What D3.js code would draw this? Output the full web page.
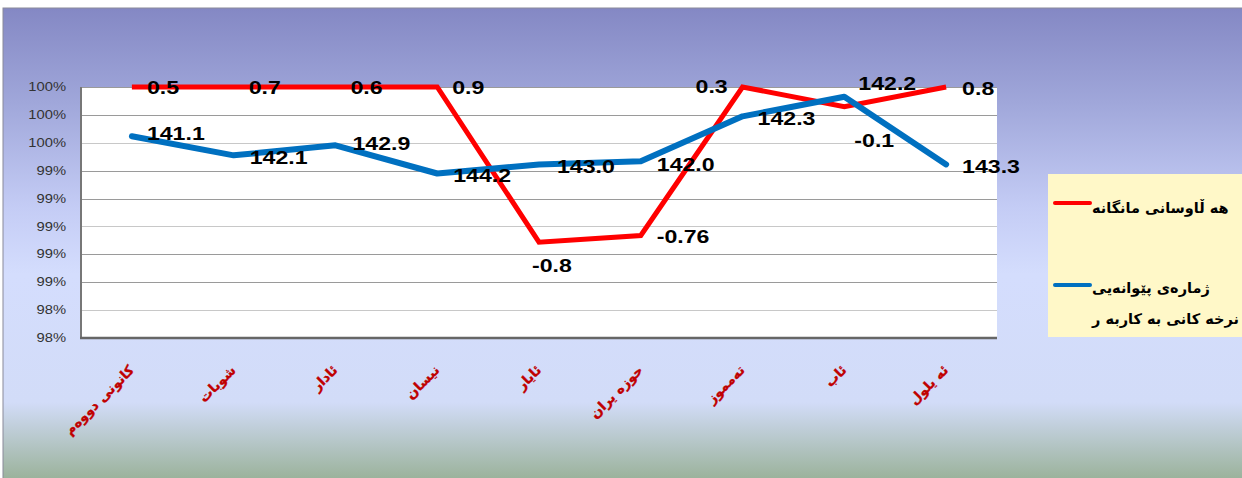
<!DOCTYPE html>
<html><head><meta charset="utf-8">
<script src="https://cdn.jsdelivr.net/npm/d3@7"></script>
<style>html,body{margin:0;padding:0;background:#fff;overflow:hidden}</style>
</head><body>
<svg id="c" width="1242" height="478"></svg>
<script>
// ---- data ----
const months = ['كانونی دووەم','شوبات','ئادار','نیسان','ئایار','حوزه یران','تەمموز','ئاب','ئه یلول'];
const inflation = [0.5, 0.7, 0.6, 0.9, -0.8, -0.76, 0.3, -0.1, 0.8];
const cpi = [141.1, 142.1, 142.9, 144.2, 143.0, 142.0, 142.3, 142.2, 143.3];
const yTicks = [98.2, 98.4, 98.6, 98.8, 99.0, 99.2, 99.4, 99.6, 99.8, 100];
const legendInflation = ['هه ڵاوسانی مانگانه'];
const legendCpi = ['ژمارەی پێوانەیی', 'نرخه کانی به کاربه ر'];
// label nudges (px) relative to each point
const redLabelOffsets = [[15,0],[15,0],[15,0],[15,0],[-7,23],[16,1],[-47,-1],[10,34],[16,1]];
const blueLabelOffsets = [[15,-3],[16,2],[17,-2],[16,2],[18,2],[16,3],[15,2],[14,-13],[16,2]];

// 100% stacked line transform
const total = cpi.map((c,i)=>Math.abs(c)+Math.abs(inflation[i]));
const bluePct = cpi.map((c,i)=>c/total[i]*100);
const redPct = cpi.map((c,i)=>(c+inflation[i])/total[i]*100);

const svg = d3.select('#c');
const defs = svg.append('defs');
const g = defs.append('linearGradient').attr('id','bg').attr('x1',0).attr('y1',0).attr('x2',0).attr('y2',1);
[[0,'#8488c4'],[0.2,'#a0a7da'],[0.42,'#c4ccf5'],[0.56,'#d4ddfd'],[0.83,'#d2dcf8'],[1,'#98b096']]
  .forEach(([o,c])=>g.append('stop').attr('offset',o).attr('stop-color',c));

svg.append('rect').attr('x',3).attr('y',8).attr('width',1245).attr('height',475)
  .attr('fill','url(#bg)').attr('stroke','#8a8a9a').attr('stroke-width',1);

const L=81, R=997, T=87, B=338;
const x = d3.scaleBand().domain(months).range([L,R]);
const y = d3.scaleLinear().domain([98.2,100]).range([B,T]);
const cx = i => x(months[i]) + x.bandwidth()/2;

svg.append('rect').attr('x',L).attr('y',T).attr('width',R-L).attr('height',B-T).attr('fill','#fff');

// gridlines
svg.append('g').selectAll('line').data(yTicks).join('line')
  .attr('x1',L).attr('x2',R).attr('y1',d=>Math.round(y(d))+0.5).attr('y2',d=>Math.round(y(d))+0.5)
  .attr('stroke',(d,i)=>i%3===1?'#c8c8c8':'#9a9a9a').attr('stroke-width',1);

// axes lines
svg.append('line').attr('x1',L).attr('x2',L).attr('y1',T).attr('y2',B+1).attr('stroke','#777').attr('stroke-width',2);
svg.append('line').attr('x1',L-1).attr('x2',R).attr('y1',B).attr('y2',B).attr('stroke','#666').attr('stroke-width',2.5);

// y tick labels
const pf = d3.format('.0%');
svg.append('g').selectAll('text').data(yTicks).join('text')
  .attr('transform',d=>`translate(66,${y(d)}) scale(1.18,1)`)
  .attr('text-anchor','end').attr('dominant-baseline','central')
  .attr('font-family','Liberation Sans, Arial, sans-serif').attr('font-size',12.5).attr('fill','#333')
  .text(d=>pf(d/100));

// x labels
svg.append('g').selectAll('text').data(months).join('text')
  .attr('transform',(d,i)=>`translate(${cx(i)+3},${371}) rotate(-45)`)
  .attr('text-anchor','end')
  .attr('font-family','DejaVu Sans, sans-serif').attr('font-weight','bold').attr('font-size',13.5)
  .attr('fill','#c00000').attr('stroke','#c00000').attr('stroke-width',0.3).text(d=>d);

// lines
const line = d3.line().x((d,i)=>cx(i)).y(d=>y(d));
svg.append('path').datum(redPct).attr('d',line).attr('fill','none')
  .attr('stroke','#ff0000').attr('stroke-width',5).attr('stroke-linejoin','miter');
svg.append('path').datum(bluePct).attr('d',line).attr('fill','none')
  .attr('stroke','#0070c0').attr('stroke-width',6).attr('stroke-linecap','round').attr('stroke-linejoin','round');

// data labels
function labels(vals, pcts, offs, fmt){
  svg.append('g').selectAll('text').data(vals).join('text')
    .attr('transform',(d,i)=>`translate(${cx(i)+offs[i][0]},${y(pcts[i])+offs[i][1]}) scale(1.25,1)`)
    .attr('dominant-baseline','central')
    .attr('font-family','Liberation Sans, Arial, sans-serif').attr('font-weight','bold').attr('font-size',18.5)
    .attr('fill','#000').text(fmt);
}
labels(inflation, redPct, redLabelOffsets, d=>String(d));
labels(cpi, bluePct, blueLabelOffsets, d3.format('.1f'));

// legend
svg.append('rect').attr('x',1048).attr('y',174).attr('width',200).attr('height',163).attr('fill','#fff8c8');
svg.append('line').attr('x1',1055).attr('x2',1090).attr('y1',203).attr('y2',203).attr('stroke','#ff0000').attr('stroke-width',4).attr('stroke-linecap','round');
svg.append('line').attr('x1',1055).attr('x2',1090).attr('y1',285).attr('y2',285).attr('stroke','#0070c0').attr('stroke-width',4).attr('stroke-linecap','round');
const lt = (arr, y0, dy) => svg.append('g').selectAll('text').data(arr).join('text')
  .attr('x',1092).attr('y',(d,i)=>y0+i*dy).attr('dominant-baseline','central')
  .attr('font-family','DejaVu Sans, sans-serif').attr('font-weight','bold').attr('font-size',14.5)
  .attr('fill','#000').text(d=>d);
lt(legendInflation, 208, 0);
lt(legendCpi, 288, 31);
</script>
</body></html>
